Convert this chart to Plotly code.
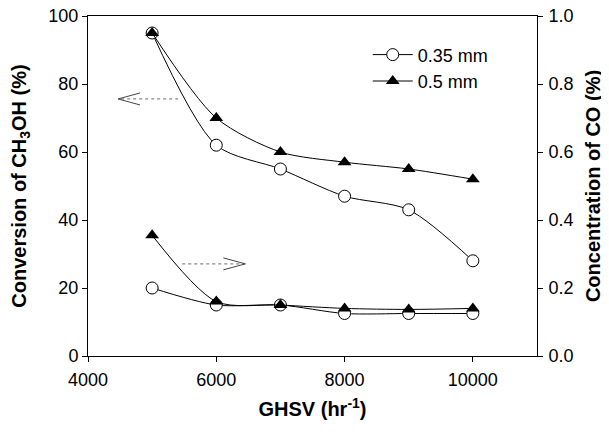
import plotly.graph_objects as go

ghsv = [5000, 6000, 7000, 8000, 9000, 10000]
conv_035 = [95, 62, 55, 47, 43, 28]
conv_05 = [95, 70, 60, 57, 55, 52]
co_035 = [0.20, 0.15, 0.15, 0.125, 0.125, 0.125]
co_05 = [0.355, 0.16, 0.15, 0.14, 0.137, 0.14]
x_ticks = [4000, 6000, 8000, 10000]
y_ticks = [0, 20, 40, 60, 80, 100]
y2_ticks = [0.0, 0.2, 0.4, 0.6, 0.8, 1.0]

# direction arrows (tail -> tip) on the left-axis scale
arrows = [((5406, 75.6), (4469, 75.6), -1), ((5469, 27.1), (6453, 27.1), 1)]

fig = go.Figure()
line = dict(color="black", width=1, shape="spline", smoothing=0.8)
open_fill = dict(symbol="circle", size=12, color="white", line=dict(color="black", width=1))
tri = dict(symbol="triangle-up", size=12, color="black")

fig.add_trace(go.Scatter(x=ghsv, y=conv_035, mode="lines+markers", name="0.35 mm",
                         line=line, marker=open_fill))
fig.add_trace(go.Scatter(x=ghsv, y=conv_05, mode="lines+markers", name="0.5 mm",
                         line=line, marker=tri))
fig.add_trace(go.Scatter(x=ghsv, y=co_035, mode="lines+markers", showlegend=False,
                         line=line, marker=open_fill, yaxis="y2"))
fig.add_trace(go.Scatter(x=ghsv, y=co_05, mode="lines+markers", showlegend=False,
                         line=line, marker=tri, yaxis="y2"))

for (tx, ty), (hx, hy), d in arrows:
    fig.add_shape(type="line", xref="x", yref="y", x0=tx, y0=ty, x1=hx, y1=hy,
                  line=dict(color="#888", width=1.2, dash="dot"))
    for s in (-1, 1):
        fig.add_shape(type="line", xref="x", yref="y", xsizemode="pixel", ysizemode="pixel",
                      xanchor=hx, yanchor=hy, x0=0, y0=0, x1=-d * 22, y1=s * 6,
                      line=dict(color="#444", width=1))

fam = "Liberation Sans, Arial"
tfont = dict(family=fam, color="black", size=20)
fig.update_layout(
    width=601, height=428,
    margin=dict(l=80, r=72, t=8, b=80),
    paper_bgcolor="white", plot_bgcolor="white",
    font=dict(family=fam, color="black", size=18),
    showlegend=True,
    legend=dict(x=0.623, y=0.94, xanchor="left", yanchor="top", bgcolor="rgba(0,0,0,0)",
                font=dict(size=18, family=fam), tracegroupgap=0, itemwidth=40),
    xaxis=dict(range=[4000, 11000], tickvals=x_ticks, ticktext=[str(v) for v in x_ticks],
               showgrid=False, automargin=False, ticklabeloverflow="allow", ticklabelstandoff=2,
               zeroline=False, showline=True, linecolor="black", linewidth=1, mirror=True,
               ticks="outside", ticklen=5, tickcolor="black",
               title=dict(text="<b>GHSV (hr<sup>-1</sup>)</b>", font=tfont, standoff=13)),
    yaxis=dict(range=[0, 100], tickvals=y_ticks, showgrid=False, automargin=False,
               ticklabeloverflow="allow",
               zeroline=False, showline=True, linecolor="black", linewidth=1,
               ticks="outside", ticklen=5, tickcolor="black",
               title=dict(text="<b>Conversion of CH<sub>3</sub>OH (%)</b>", font=tfont, standoff=16)),
    yaxis2=dict(range=[0, 1.0], tickvals=y2_ticks, tickformat=".1f", ticklabeloverflow="allow",
                overlaying="y", side="right", showgrid=False, zeroline=False, automargin=False,
                showline=True, linecolor="black", linewidth=1, ticklabelstandoff=2,
                ticks="outside", ticklen=5, tickcolor="black",
                title=dict(text="<b>Concentration of CO (%)</b>", font=tfont, standoff=13)),
)

fig.write_html("out.html")
